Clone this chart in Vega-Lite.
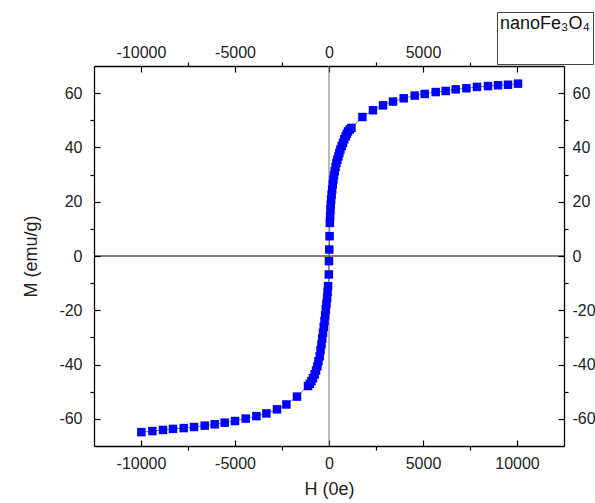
{
  "$schema": "https://vega.github.io/schema/vega-lite/v6.json",
  "width": 470,
  "height": 380,
  "autosize": "none",
  "padding": {"left": 94, "top": 66, "right": 31, "bottom": 57},
  "background": "white",
  "config": {
    "view": {"stroke": null},
    "axis": {
      "grid": false,
      "labelFont": "Liberation Sans",
      "labelFontSize": 16,
      "labelColor": "#222",
      "titleFont": "Liberation Sans",
      "titleFontSize": 18,
      "titleFontWeight": "normal",
      "titleColor": "#222",
      "domainColor": "#000",
      "domainWidth": 1.3,
      "tickColor": "#000",
      "tickWidth": 1.2
    }
  },
  "data": {
    "values": [
      {"H": 10053, "M": 63.5}, {"H": 9521, "M": 63.1}, {"H": 8989, "M": 62.9}, {"H": 8457, "M": 62.6},
      {"H": 7872, "M": 62.3}, {"H": 7308, "M": 61.8}, {"H": 6739, "M": 61.4}, {"H": 6207, "M": 60.8},
      {"H": 5675, "M": 60.4}, {"H": 5090, "M": 59.7}, {"H": 4558, "M": 59.1}, {"H": 3973, "M": 58.1},
      {"H": 3404, "M": 56.9}, {"H": 2872, "M": 55.5}, {"H": 2340, "M": 53.7}, {"H": 1777, "M": 51.2},
      {"H": 1191, "M": 47.2}, {"H": 1100, "M": 46.6}, {"H": 1011, "M": 45.9}, {"H": 950, "M": 45.0},
      {"H": 888, "M": 44.1}, {"H": 815, "M": 43.0}, {"H": 745, "M": 41.7}, {"H": 675, "M": 40.5},
      {"H": 606, "M": 39.2}, {"H": 550, "M": 38.0}, {"H": 500, "M": 36.7}, {"H": 445, "M": 35.5},
      {"H": 394, "M": 34.3}, {"H": 350, "M": 32.8}, {"H": 303, "M": 31.2}, {"H": 265, "M": 29.7},
      {"H": 235, "M": 28.2}, {"H": 200, "M": 26.4}, {"H": 170, "M": 24.5}, {"H": 140, "M": 22.6},
      {"H": 115, "M": 20.8}, {"H": 95, "M": 19.0}, {"H": 78, "M": 17.1}, {"H": 60, "M": 14.6},
      {"H": 45, "M": 12.2}, {"H": 30, "M": 7.3}, {"H": 15, "M": 2.4}, {"H": 0, "M": -1.9},
      {"H": -10, "M": -6.8}, {"H": -50, "M": -11.1}, {"H": -75, "M": -13.2}, {"H": -100, "M": -15.4},
      {"H": -135, "M": -17.5}, {"H": -170, "M": -19.7}, {"H": -205, "M": -21.8}, {"H": -240, "M": -24.0},
      {"H": -280, "M": -26.1}, {"H": -320, "M": -28.3}, {"H": -360, "M": -30.4}, {"H": -400, "M": -32.6},
      {"H": -450, "M": -34.7}, {"H": -495, "M": -36.9}, {"H": -560, "M": -38.8}, {"H": -617, "M": -40.6},
      {"H": -690, "M": -42.2}, {"H": -760, "M": -43.6}, {"H": -850, "M": -45.0}, {"H": -936, "M": -46.1},
      {"H": -1020, "M": -47.1}, {"H": -1117, "M": -47.9}, {"H": -1702, "M": -51.8}, {"H": -2266, "M": -54.7},
      {"H": -2766, "M": -56.5}, {"H": -3330, "M": -58.0}, {"H": -3862, "M": -59.0}, {"H": -4431, "M": -59.9},
      {"H": -5000, "M": -60.8}, {"H": -5548, "M": -61.4}, {"H": -6080, "M": -62.0}, {"H": -6612, "M": -62.5},
      {"H": -7181, "M": -63.0}, {"H": -7729, "M": -63.4}, {"H": -8298, "M": -63.7}, {"H": -8830, "M": -64.1},
      {"H": -9394, "M": -64.5}, {"H": -9979, "M": -64.9}
    ]
  },
  "resolve": {"axis": {"x": "independent", "y": "independent"}},
  "layer": [
    {
      "data": {"values": [{"M": 0}]},
      "mark": {"type": "rule", "color": "#000", "strokeWidth": 1},
      "encoding": {
        "y": {
          "field": "M", "type": "quantitative",
          "scale": {"domain": [-70, 70], "nice": false, "zero": false},
          "axis": {
            "orient": "left", "title": "M (emu/g)", "values": [-60, -40, -20, 0, 20, 40, 60],
            "tickSize": -6, "labelPadding": 18, "titlePadding": 18,
            "labelExpr": "toString(datum.value)"
          }
        }
      }
    },
    {
      "data": {"values": [{"H": 0}]},
      "mark": {"type": "rule", "color": "#777", "strokeWidth": 1},
      "encoding": {
        "x": {
          "field": "H", "type": "quantitative",
          "scale": {"domain": [-12500, 12500], "nice": false, "zero": false},
          "axis": {
            "orient": "bottom", "title": "H (0e)", "values": [-10000, -5000, 0, 5000, 10000],
            "tickSize": -6, "labelPadding": 15, "titlePadding": 9,
            "labelExpr": "toString(datum.value)"
          }
        }
      }
    },
    {
      "mark": {"type": "line", "color": "#444", "strokeWidth": 0.7},
      "encoding": {
        "x": {
          "field": "H", "type": "quantitative",
          "scale": {"domain": [-12500, 12500], "nice": false, "zero": false},
          "axis": {
            "orient": "top", "title": null, "values": [-10000, -5000, 0, 5000, 10000],
            "tickSize": -6, "labelPadding": 12,
            "labelExpr": "datum.value == 10000 ? '' : toString(datum.value)"
          }
        },
        "y": {
          "field": "M", "type": "quantitative",
          "scale": {"domain": [-70, 70], "nice": false, "zero": false},
          "axis": {
            "orient": "right", "title": null, "values": [-60, -40, -20, 0, 20, 40, 60],
            "tickSize": -6, "labelPadding": 14,
            "labelExpr": "toString(datum.value)"
          }
        }
      }
    },
    {
      "mark": {"type": "point", "shape": "square", "filled": true, "size": 72, "opacity": 1, "strokeWidth": 0},
      "encoding": {
        "x": {
          "field": "H", "type": "quantitative",
          "scale": {"domain": [-12500, 12500], "nice": false, "zero": false},
          "axis": {
            "orient": "bottom", "title": null, "values": [-7500, -2500, 2500, 7500],
            "tickSize": 4, "labels": false, "domain": false
          }
        },
        "y": {
          "field": "M", "type": "quantitative",
          "scale": {"domain": [-70, 70], "nice": false, "zero": false},
          "axis": {
            "orient": "left", "title": null, "values": [-50, -30, -10, 10, 30, 50],
            "tickSize": 4, "labels": false, "domain": false
          }
        },
        "color": {
          "datum": "nanoFe3O4",
          "scale": {"range": ["#0000ff"]},
          "legend": {
            "orient": "none", "legendX": 403, "legendY": -54,
            "title": "nanoFe₃O₄", "titleFont": "Liberation Sans", "titleFontSize": 18,
            "titleFontWeight": "normal", "titleColor": "#111", "titlePadding": 4,
            "padding": 3, "fillColor": "white", "strokeColor": "#444",
            "symbolOpacity": 0, "symbolSize": 500, "symbolType": "square",
            "labelExpr": "''"
          }
        }
      }
    },
    {
      "mark": {"type": "point", "opacity": 0},
      "encoding": {
        "x": {
          "field": "H", "type": "quantitative",
          "scale": {"domain": [-12500, 12500], "nice": false, "zero": false},
          "axis": {
            "orient": "top", "title": null, "values": [-7500, -2500, 2500, 7500],
            "tickSize": 4, "labels": false, "domain": false
          }
        },
        "y": {
          "field": "M", "type": "quantitative",
          "scale": {"domain": [-70, 70], "nice": false, "zero": false},
          "axis": {
            "orient": "right", "title": null, "values": [-50, -30, -10, 10, 30, 50],
            "tickSize": 4, "labels": false, "domain": false
          }
        }
      }
    }
  ]
}
